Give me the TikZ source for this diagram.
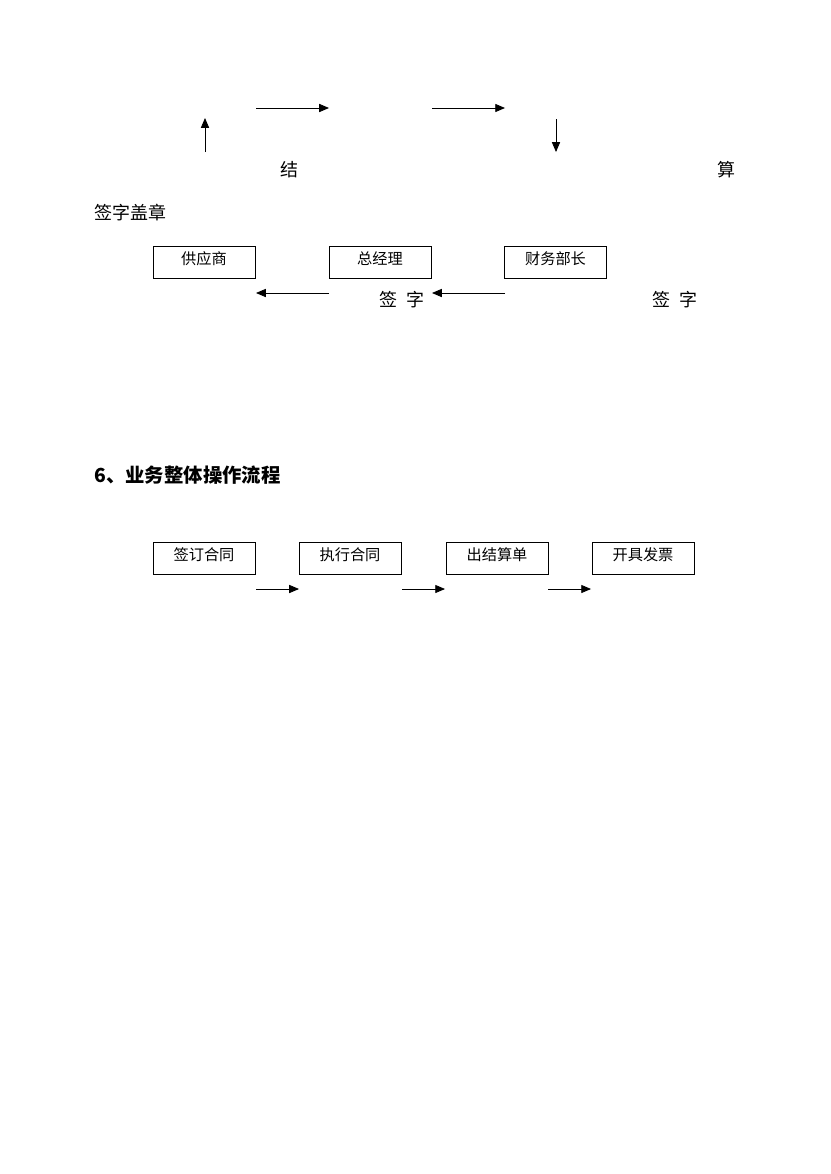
\documentclass[tikz,border=0pt]{standalone}
\usepackage{fontspec}
\setmainfont{Noto Sans CJK SC}
\usetikzlibrary{arrows}

\begin{document}
\begin{tikzpicture}[->,semithick,>=triangle 45,x=0.0254cm,y=-0.0254cm]
    \tikzstyle{label}=[text=black,inner sep=0pt,font=\fontsize{13}{15}\selectfont]
    \tikzstyle{title}=[style=label,anchor=west,font=\fontsize{14}{16}\bfseries\selectfont]
    \tikzstyle{stage}=[draw=black,thin,rectangle,minimum width=2.59cm,minimum height=0.81cm,inner sep=0pt,text=black,font=\fontsize{11}{13}\selectfont,text depth=0.2cm]
    \useasboundingbox (0,0) rectangle (830,1174);

    % settlement signing chain
    \node[stage] (supplier) at (204,262) {供应商};
    \node[stage] (manager)  at (380,262) {总经理};
    \node[stage] (finance)  at (555.5,262) {财务部长};

    \node[label] (jie)  at (289,170) {结};
    \node[label] (suan) at (726,170) {算};
    \node[label,anchor=west] (seal) at (94,213) {签字盖章};
    \node[label] (sign1) at (402,300) {签\hspace{0.55em}字};
    \node[label] (sign2) at (675,300) {签\hspace{0.55em}字};

    \coordinate (up0) at (205,152);  \coordinate (up1) at (205,118);
    \coordinate (a0)  at (256,108);  \coordinate (a1)  at (329,108);
    \coordinate (b0)  at (432,108);  \coordinate (b1)  at (505,108);
    \coordinate (dn0) at (556,119);  \coordinate (dn1) at (556,152);
    \coordinate (c0)  at (505,293);  \coordinate (c1)  at (432,293);
    \coordinate (d0)  at (329,293);  \coordinate (d1)  at (256,293);

    \draw (up0) -- (up1);
    \draw (a0) -- (a1);
    \draw (b0) -- (b1);
    \draw (dn0) -- (dn1);
    \draw (c0) -- (c1);
    \draw (d0) -- (d1);

    % overall business flow
    \node[title] (head) at (94,475) {6、业务整体操作流程};

    \node[stage] (contract) at (204,558) {签订合同};
    \node[stage] (execute)  at (350,558) {执行合同};
    \node[stage] (bill)     at (497,558) {出结算单};
    \node[stage] (invoice)  at (643,558) {开具发票};

    \coordinate (e0) at (256,589); \coordinate (e1) at (299,589);
    \coordinate (f0) at (402,589); \coordinate (f1) at (445,589);
    \coordinate (g0) at (548,589); \coordinate (g1) at (591,589);

    \draw (e0) -- (e1);
    \draw (f0) -- (f1);
    \draw (g0) -- (g1);
\end{tikzpicture}
\end{document}
